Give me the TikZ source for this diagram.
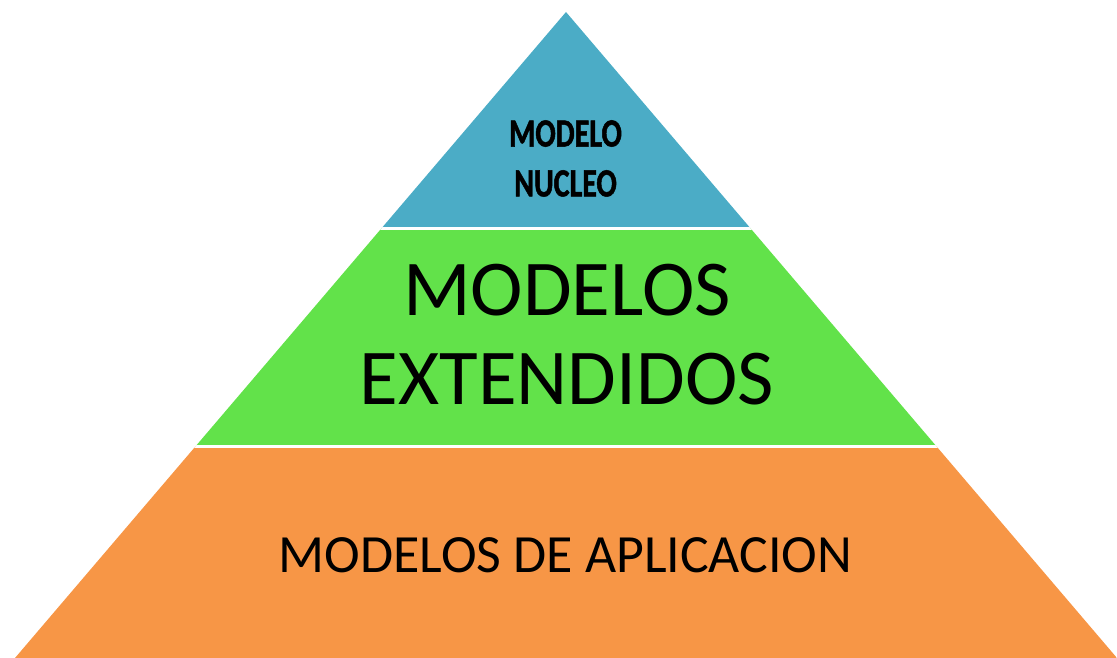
\documentclass[tikz,border=0pt]{standalone}
\usepackage{fontspec}
\setmainfont{Carlito}
\newfontfamily\nucleofont[FakeStretch=0.75, BoldFeatures={FakeBold=1.2}]{Carlito}
\usepackage{tikz}
\usetikzlibrary{calc}

\definecolor{nucleoblue}{HTML}{4BACC6}
\definecolor{extgreen}{HTML}{62E24A}
\definecolor{apporange}{HTML}{F79646}

\begin{document}
\begin{tikzpicture}[x=0.01cm, y=-0.01cm]
	\useasboundingbox (0,0) rectangle (1117,658);
	\coordinate (apex) at (566,12);
	\coordinate (bl) at (15,658);
	\coordinate (br) at (1117,658);
	% layers of the pyramid
	\begin{scope}
		\clip (apex) -- (br) -- (bl) -- cycle;
		\fill [nucleoblue] (0,0) rectangle (1117,228.3);
		\fill [extgreen] (0,228.3) rectangle (1117,446.5);
		\fill [apporange] (0,446.5) rectangle (1117,658);
		\draw [white, line width=0.7pt] (0,228.3) -- (1117,228.3);
		\draw [white, line width=0.7pt] (0,446.5) -- (1117,446.5);
	\end{scope}
	% labels
	\node [align=center, inner sep=0pt, font=\nucleofont\bfseries\fontsize{11.4}{14.2}\selectfont] (nucleo) at (565.5,158.5)
		{MODELO\\NUCLEO};
	\node [align=center, inner sep=0pt, font=\fontsize{22.5}{25.3}\selectfont] (extendidos) at (567,335)
		{MODELOS\\EXTENDIDOS};
	\node [inner sep=0pt, font=\fontsize{15.3}{18}\selectfont] (aplicacion) at (565.5,555)
		{MODELOS DE APLICACION};
\end{tikzpicture}
\end{document}
